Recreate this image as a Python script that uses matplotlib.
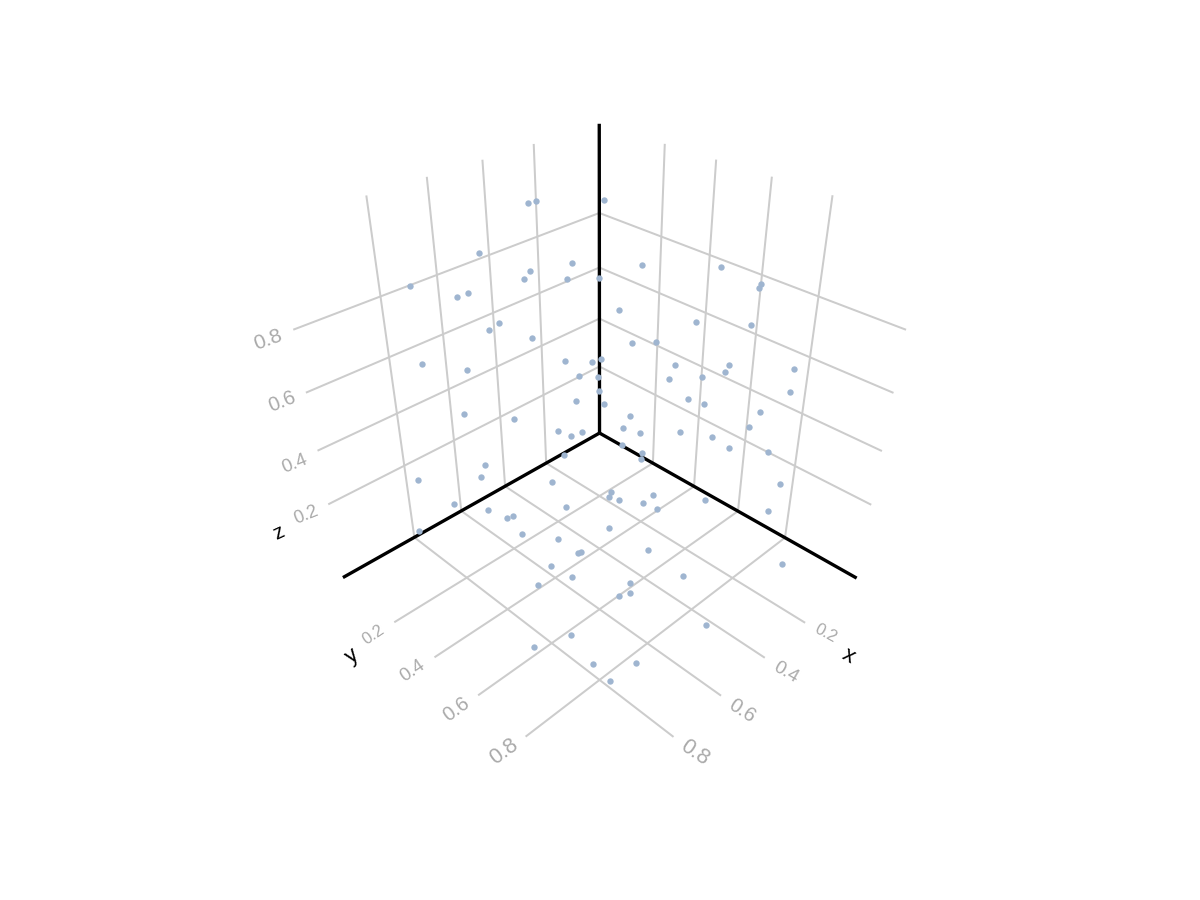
#!/usr/bin/env python3
# 3D scatter redrawn on a flat axes: the camera is fitted to points
import numpy as np
import matplotlib
matplotlib.use('Agg')
import matplotlib.pyplot as plt

plt.rcParams['font.family'] = ['Liberation Sans', 'DejaVu Sans']

ticks = [0.2, 0.4, 0.6, 0.8]
tick_labels = ['0.2', '0.4', '0.6', '0.8']

# Screen position of each point (the picture gives no depth)
point_px = [528, 536, 604, 479, 410, 457, 468, 524, 530, 572, 567, 599, 489, 499, 532,
            422, 467, 565, 592, 601, 579, 598, 642, 721, 761, 759, 619, 696, 751, 632,
            656, 675, 729, 725, 669, 702, 794, 790, 599, 604, 576, 464, 514, 558, 571,
            582, 564, 485, 481, 418, 454, 419, 552, 488, 513, 507, 566, 522, 558, 581,
            578, 551, 572, 538, 609, 609, 688, 704, 760, 749, 630, 623, 640, 680, 712,
            729, 768, 622, 642, 641, 780, 768, 705, 611, 619, 653, 643, 657, 648, 782,
            683, 630, 630, 619, 571, 534, 593, 610, 706, 636]
point_py = [203, 201, 200, 253, 286, 297, 293, 279, 271, 263, 279, 278, 330, 323, 338,
            364, 370, 361, 362, 359, 376, 377, 265, 267, 284, 288, 310, 322, 325, 343,
            342, 365, 365, 372, 379, 377, 369, 392, 391, 404, 401, 414, 419, 431, 436,
            432, 455, 465, 477, 480, 504, 531, 482, 510, 516, 518, 507, 534, 539, 552,
            553, 566, 577, 585, 497, 528, 399, 404, 412, 427, 416, 428, 433, 432, 437,
            448, 452, 445, 453, 459, 484, 511, 500, 492, 500, 495, 503, 509, 550, 564,
            576, 583, 593, 596, 635, 647, 664, 681, 625, 663]

# Where the grid meets the axes and the outer edges
x_on_axis = [(547, 463), (506, 486), (461, 512), (415, 538)]
y_on_axis = [(651, 463), (693, 486), (737, 511), (783, 537)]
z_on_axis = [(600, 367), (600, 319), (600, 267), (600, 212)]
x_top = [(534, 143), (483, 160), (427, 177), (367, 196)]
y_top = [(664, 143), (715, 160), (770, 177), (831, 196)]
z_left = [(328, 506), (317, 451), (306, 393), (293, 329)]
z_right = [(872, 506), (883, 452), (894, 393), (907, 330)]
x_front = [(806, 623), (766, 658), (722, 696), (675, 736)]
y_front = [(393, 622), (434, 657), (477, 694), (525, 735)]


def fit_camera(lo, hi, zlo, zhi):
    world = [(lo, lo, zlo), (hi, lo, zlo), (lo, hi, zlo), (lo, lo, zhi)]
    screen = [(600, 433), (343, 578), (857, 578), (600, 123)]
    for i, t in enumerate(ticks):
        world += [(t, lo, zlo), (lo, t, zlo), (lo, lo, t), (t, lo, zhi), (lo, t, zhi),
                  (hi, lo, t), (lo, hi, t), (t, hi, zlo), (hi, t, zlo)]
        screen += [x_on_axis[i], y_on_axis[i], z_on_axis[i], x_top[i], y_top[i],
                   z_left[i], z_right[i], x_front[i], y_front[i]]
    rows = []
    rhs = []
    for (x, y, z), (u, v) in zip(world, screen):
        rows.append([x, y, z, 1, 0, 0, 0, 0, -u * x, -u * y, -u * z])
        rhs.append(u)
        rows.append([0, 0, 0, 0, x, y, z, 1, -v * x, -v * y, -v * z])
        rhs.append(v)
    rows = np.array(rows, float)
    rhs = np.array(rhs, float)
    sol = np.linalg.lstsq(rows, rhs, rcond=None)[0]
    return np.append(sol, 1.0).reshape(3, 4), np.sum((rows @ sol - rhs) ** 2)


# The axis limits are not labelled, so try a few and keep the best fit
best = None
for lo in np.arange(-0.12, -0.02, 0.02):
    for hi in np.arange(1.04, 1.2, 0.02):
        for zlo in np.arange(-0.12, -0.02, 0.02):
            for zhi in np.arange(1.04, 1.2, 0.02):
                cam, err = fit_camera(lo, hi, zlo, zhi)
                if best is None or err < best[0]:
                    best = (err, cam, lo, hi, zlo, zhi)
err, cam, lo, hi, zlo, zhi = best


def project(a, b):
    pts = np.array([[*a, 1.0], [*b, 1.0]])
    q = pts @ cam.T
    return q[:, 0] / q[:, 2], q[:, 1] / q[:, 2]


fig = plt.figure(figsize=(12, 9), dpi=100)
ax = fig.add_axes([0, 0, 1, 1])
ax.set_xlim(0, 1200)
ax.set_ylim(900, 0)
ax.axis('off')

grid = dict(color='#cccccc', lw=1.45, zorder=1, solid_capstyle='butt')
for t in ticks:
    ax.plot(*project((t, lo, zlo), (t, lo, zhi)), **grid)
    ax.plot(*project((lo, t, zlo), (lo, t, zhi)), **grid)
    ax.plot(*project((lo, lo, t), (hi, lo, t)), **grid)
    ax.plot(*project((lo, lo, t), (lo, hi, t)), **grid)
    ax.plot(*project((t, lo, zlo), (t, hi, zlo)), **grid)
    ax.plot(*project((lo, t, zlo), (hi, t, zlo)), **grid)

axis_line = dict(color='black', lw=2.4, zorder=2, solid_capstyle='butt')
ax.plot(*project((lo, lo, zlo), (hi, lo, zlo)), **axis_line)
ax.plot(*project((lo, lo, zlo), (lo, hi, zlo)), **axis_line)
ax.plot(*project((lo, lo, zlo), (lo, lo, zhi)), **axis_line)

ax.scatter(point_px, point_py, s=21, color='#9fb5d0', linewidths=0, zorder=3)

# Tick labels, (x, y, rotation, size) per label
z_text = [(306, 515, 22, 13), (295, 464, 22, 13.5), (282, 402, 22, 14.5), (268, 340, 20, 15)]
y_text = [(373, 635, 34, 12), (413, 671, 34, 13.5), (456, 709, 36, 14.5), (504, 752, 36, 15.5)]
x_text = [(826, 633, -28, 12), (786, 673, -30, 13.5), (742, 711, -33, 14.5), (695, 753, -34, 15.5)]
for rows_text in (z_text, y_text, x_text):
    for label, (tx, ty, rot, size) in zip(tick_labels, rows_text):
        ax.text(tx, ty, label, color='#aaaaaa', fontsize=size, rotation=rot,
                rotation_mode='anchor', ha='center', va='center')

ax.text(279, 533, 'z', color='black', fontsize=15, rotation=25,
        rotation_mode='anchor', ha='center', va='center')
ax.text(352, 656, 'y', color='black', fontsize=16, rotation=36,
        rotation_mode='anchor', ha='center', va='center')
ax.text(848, 656, 'x', color='black', fontsize=16, rotation=-30,
        rotation_mode='anchor', ha='center', va='center')

fig.savefig('out.png', dpi=100)
